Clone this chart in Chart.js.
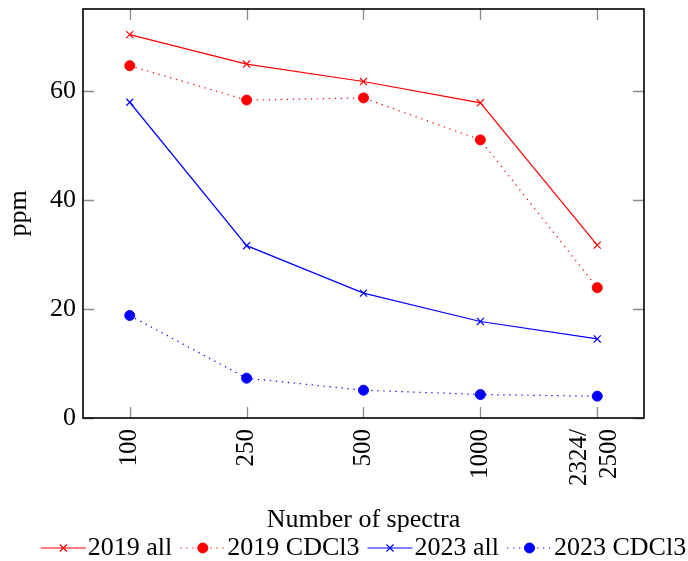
<!DOCTYPE html>
<html>
<head>
<meta charset="utf-8">
<script src="https://cdn.jsdelivr.net/npm/chart.js@4.4.1/dist/chart.umd.min.js"></script>
<style>
    html, body { margin: 0; padding: 0; background: #fff; }
    #wrap { width: 688px; height: 561px; position: relative; }
</style>
</head>
<body>
<div id="wrap"><canvas id="spektrChart"></canvas></div>
<script>
// Kategoriyalar va qiymatlar
const kategoriyalar = ['100', '250', '500', '1000', ['2324/', '2500']];
const yBelgilar = [0, 20, 40, 60];
const nomlar = ['2019 all', '2019 CDCl3', '2023 all', '2023 CDCl3'];

const all2019 = [70.3, 64.9, 61.7, 57.8, 31.7];
const cdcl2019 = [64.6, 58.3, 58.7, 51.0, 23.9];
const all2023 = [57.9, 31.6, 22.9, 17.7, 14.5];
const cdcl2023 = [18.8, 7.3, 5.1, 4.3, 4.0];

const SHRIFT = '"Liberation Serif", "Times New Roman", serif';
const QIZIL = '#ff0000';
const KOK = '#0000ff';

function nuqtalar(qatorlar) {
    return qatorlar.map((v, i) => ({ x: i, y: v }));
}

function toplam(nom, qiymat, rang, nuqtali) {
    return {
        label: nom,
        data: nuqtalar(qiymat),
        borderColor: rang,
        backgroundColor: rang,
        borderWidth: 1.2,
        borderDash: nuqtali ? [1.3, 4.7] : [],
        pointStyle: nuqtali ? 'circle' : 'crossRot',
        pointRadius: nuqtali ? 5 : 5,
        pointBorderWidth: nuqtali ? 1 : 1.2,
        pointBackgroundColor: rang,
        pointBorderColor: rang,
        tension: 0,
        clip: false
    };
}

// Ichki chiziqchalar va ramka
const ramkaPlugin = {
    id: 'ramka',
    beforeDraw(chart) {
        // ko'p qatorli yozuvni chiziqcha atrofida markazlash
        const sx = chart.scales.x;
        sx.getLabelItems().forEach(it => {
            if (Array.isArray(it.label) && !it._surildi) {
                it.options.translation[0] -= (it.label.length - 1) * it.font.lineHeight * 0.6;
                it._surildi = true;
            }
        });
    },
    beforeDatasetsDraw(chart) {
        const { ctx, chartArea: a, scales } = chart;
        const L = 11;
        ctx.save();
        ctx.strokeStyle = '#8c8c8c';
        ctx.lineWidth = 1.3;
        ctx.beginPath();
        scales.x.ticks.forEach(t => {
            const px = Math.round(scales.x.getPixelForValue(t.value)) + 0.5;
            ctx.moveTo(px, a.bottom); ctx.lineTo(px, a.bottom - L);
            ctx.moveTo(px, a.top); ctx.lineTo(px, a.top + L);
        });
        scales.y.ticks.forEach(t => {
            const py = Math.round(scales.y.getPixelForValue(t.value)) + 0.5;
            ctx.moveTo(a.left, py); ctx.lineTo(a.left + L, py);
            ctx.moveTo(a.right, py); ctx.lineTo(a.right - L, py);
        });
        ctx.stroke();
        ctx.restore();
    },
    afterDatasetsDraw(chart) {
        const { ctx, chartArea: a } = chart;
        ctx.save();
        ctx.strokeStyle = '#000';
        ctx.lineWidth = 1.6;
        ctx.strokeRect(a.left, a.top, a.right - a.left, a.bottom - a.top);
        ctx.restore();
    }
};

// Pastdagi legenda (chiziq + belgi + matn)
const legendaPlugin = {
    id: 'legenda',
    afterDraw(chart) {
        const { ctx, chartArea: a } = chart;
        const namuna = 45, ora = 8, matnOra = 2;
        const y = 548;
        ctx.save();
        ctx.font = '26px ' + SHRIFT;
        const kengliklar = chart.data.datasets.map(d => ctx.measureText(d.label).width);
        let jami = kengliklar.reduce((s, w) => s + namuna + matnOra + w, 0) + ora * (kengliklar.length - 1);
        let x = (a.left + a.right) / 2 - jami / 2;
        chart.data.datasets.forEach((d, i) => {
            ctx.strokeStyle = d.borderColor;
            ctx.fillStyle = d.borderColor;
            ctx.lineWidth = d.borderWidth;
            ctx.setLineDash(d.borderDash);
            ctx.beginPath();
            ctx.moveTo(x, y);
            ctx.lineTo(x + namuna, y);
            ctx.stroke();
            ctx.setLineDash([]);
            ctx.lineWidth = d.pointBorderWidth;
            Chart.helpers.drawPoint(ctx, {
                pointStyle: d.pointStyle,
                radius: d.pointRadius,
                borderWidth: d.pointBorderWidth,
                rotation: 0
            }, x + namuna / 2, y);
            ctx.fillStyle = '#000';
            ctx.textBaseline = 'middle';
            ctx.textAlign = 'left';
            ctx.fillText(d.label, x + namuna + matnOra, y);
            x += namuna + matnOra + kengliklar[i] + ora;
        });
        ctx.restore();
    }
};

Chart.defaults.color = '#000';
Chart.defaults.font.family = SHRIFT;
Chart.defaults.font.size = 26;

const ctx = document.getElementById('spektrChart').getContext('2d');
const spektrChart = new Chart(ctx, {
    type: 'line',
    data: {
        datasets: [
            toplam(nomlar[0], all2019, QIZIL, false),
            toplam(nomlar[1], cdcl2019, QIZIL, true),
            toplam(nomlar[2], all2023, KOK, false),
            toplam(nomlar[3], cdcl2023, KOK, true)
        ]
    },
    options: {
        responsive: true,
        maintainAspectRatio: false,
        animation: false,
        layout: { padding: { left: 0, right: 44, top: 9, bottom: 0 } },
        plugins: {
            legend: { display: false },
            tooltip: { enabled: false }
        },
        scales: {
            x: {
                type: 'linear',
                min: -0.4,
                max: 4.4,
                grid: { display: false, drawTicks: false },
                border: { display: false },
                afterBuildTicks: s => { s.ticks = kategoriyalar.map((_, i) => ({ value: i })); },
                afterFit: s => {
                    s.height = 143;
                    s.paddingLeft = 0;
                    s.paddingRight = 0;
                },
                ticks: {
                    autoSkip: false,
                    minRotation: 90,
                    maxRotation: 90,
                    padding: 11,
                    font: { size: 25 },
                    callback: v => kategoriyalar[v]
                },
                title: {
                    display: true,
                    text: 'Number of spectra',
                    font: { size: 26 },
                    padding: { top: 0, bottom: 25 }
                }
            },
            y: {
                min: 0,
                max: 75,
                grid: { display: false, drawTicks: false },
                border: { display: false },
                afterBuildTicks: s => { s.ticks = yBelgilar.map(v => ({ value: v })); },
                afterFit: s => {
                    s.width = 83;
                    s.paddingTop = 0;
                    s.paddingBottom = 0;
                },
                ticks: {
                    padding: 7,
                    font: { size: 26 }
                },
                title: {
                    display: true,
                    text: 'ppm',
                    font: { size: 26 },
                    padding: { top: 4, bottom: 0 }
                }
            }
        }
    },
    plugins: [ramkaPlugin, legendaPlugin]
});
</script>
</body>
</html>
